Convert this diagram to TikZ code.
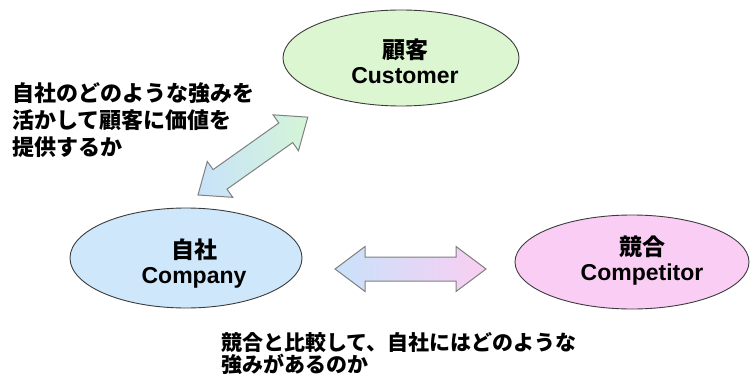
\documentclass[tikz,border=0pt]{standalone}
\usepackage{fontspec}
\setmainfont{Liberation Sans}
\newfontfamily\cjk{Noto Sans CJK JP}
\usetikzlibrary{shapes.geometric,calc}
\definecolor{custfill}{RGB}{220,246,210}
\definecolor{compfill}{RGB}{206,231,250}
\definecolor{rivalfill}{RGB}{250,206,244}
\definecolor{arrblue}{RGB}{200,226,250}
\definecolor{arrpink}{RGB}{250,206,242}
\definecolor{arrgreen}{RGB}{212,245,215}
\definecolor{edgegray}{RGB}{60,60,60}
\begin{document}
\begin{tikzpicture}[x=1pt,y=1pt,
  party/.style={ellipse, draw=edgegray, line width=0.9pt, inner sep=0pt},
  partylabel/.style={align=center, inner sep=0pt,
    font=\fontsize{23}{26}\selectfont\bfseries},
  blockarrow/.style={draw=gray, line width=1pt, line join=miter},
  note/.style={anchor=north west, align=left, inner sep=0pt}]
\useasboundingbox[fill=white] (0,0) rectangle (751,378);
% ellipses
\node[party, fill=custfill, minimum width=236pt, minimum height=96pt] (cust) at (401,320) {};
\node[party, fill=compfill, minimum width=232pt, minimum height=100pt] (comp) at (186,120) {};
\node[party, fill=rivalfill, minimum width=234pt, minimum height=94pt] (rival) at (632,116) {};
\node[partylabel] (custlabel) at ($(cust.center)+(4,-3)$) {{\cjk\bfseries 顧客}\\[-1pt]Customer};
\node[partylabel] (complabel) at ($(comp.center)+(8,-6)$) {{\cjk\bfseries 自社}\\[-1pt]Company};
\node[partylabel] (rivallabel) at ($(rival.center)+(10,1.5)$) {{\cjk\bfseries 競合}\\[-1pt]Competitor};
% arrow tips
\coordinate (dA) at (198,183);
\coordinate (dB) at (308,261);
\coordinate (hA) at (335,109);
\coordinate (hB) at (486,109);
% diagonal double arrow
\begin{scope}[shift={(dA)}, rotate=35.34]
\shade[blockarrow, left color=arrblue, right color=arrgreen]
  (0,0) -- (27,22) -- (27,12) -- (107.6,12) -- (107.6,22) -- (134.6,0)
  -- (107.6,-22) -- (107.6,-12) -- (27,-12) -- (27,-22) -- cycle;
\end{scope}
% horizontal double arrow
\begin{scope}[shift={(hA)}]
\shade[blockarrow, left color=arrblue, right color=arrpink]
  (0,0) -- (30,22.5) -- (30,12) -- (121,12) -- (121,22.5) -- (151,0)
  -- (121,-22.5) -- (121,-12) -- (30,-12) -- (30,-22.5) -- cycle;
\end{scope}
% texts
\node[note, font=\cjk\bfseries\fontsize{22}{27}\selectfont] (t1) at (12,296)
  {自社のどのような強みを\\活かして顧客に価値を\\提供するか};
\node[note, font=\cjk\bfseries\fontsize{21}{22}\selectfont] (t2) at (221,46)
  {競合と比較して、自社にはどのような\\強みがあるのか};
\end{tikzpicture}
\end{document}
